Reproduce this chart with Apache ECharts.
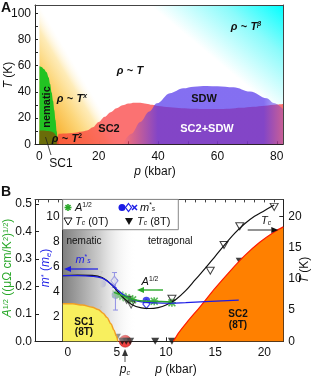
<!DOCTYPE html>
<html><head><meta charset="utf-8">
<script src="https://cdn.jsdelivr.net/npm/echarts@6/dist/echarts.min.js"></script>
<style>html,body{margin:0;padding:0;background:#fff}#c{width:314px;height:381px}</style>
</head><body><div id="c"></div>
<script>
// ================= Panel A data (p in kbar, T in K) =================
const aXTicks = [0, 20, 40, 60, 80];
const aXMinor = [0, 10, 20, 30, 40, 50, 60, 70, 80];
const aYTicks = [0, 20, 40, 60, 80, 100];
const aYMinor = [0, 10, 20, 30, 40, 50, 60, 70, 80, 90, 100];

const aFanP = [0, 28];
const aFanT = [106, 0];

const aNemP = [0, 0.7, 1.5, 2.4, 3.1, 3.6, 4.1, 4.6, 5.0, 5.4, 5.8, 6.2];
const aNemT = [59.5, 59, 57.5, 55, 51, 46, 39.5, 33, 26, 18.5, 10, 0];

const aSC1P = [0, 1, 2, 3, 4, 4.8, 5.4, 6.0, 6.4, 6.6];
const aSC1T = [10.5, 10.5, 10.4, 10.2, 9.8, 9.0, 7.5, 5.0, 2.5, 0];

const aSC2P = [5.8, 6.5, 8, 10, 12, 14, 16, 18, 20, 22, 24, 26, 28, 30, 32, 34, 36, 38, 40, 44, 48, 52, 56, 60, 64, 68, 72, 76, 80, 82.1];
const aSC2T = [0, 8, 8.3, 8.5, 8.9, 9.5, 10.5, 13, 17, 21, 24.5, 27.5, 29.8, 31.2, 31.8, 31.7, 31, 30.2, 29.3, 28.3, 27.6, 27.2, 27, 27, 27.2, 27.8, 28.6, 29.5, 30.3, 30.7];

const aSDWP = [28, 31, 34, 37, 39.6, 44, 48.5, 52, 56.4, 60, 65.4, 71, 76.6, 79, 82.1];
const aSDWT = [0, 8, 17, 25, 31.3, 39, 42.7, 44, 44.5, 44.3, 43.5, 40.2, 35.1, 31.5, 27];

// ================= Panel B data =================
const bXTicks = [0, 5, 10, 15, 20];
const bXTop = [-3, -2, -1, 0, 1, 2, 3, 4, 5, 6, 7, 8, 9, 10, 11, 12, 13, 14, 15, 16, 17, 18, 19, 20, 21];
const bATicks = [0, 0.1, 0.2, 0.3, 0.4, 0.5];
const bMTicks = [2, 4, 6, 8, 10];
const bMMinor = [1, 2, 3, 4, 5, 6, 7, 8, 9, 10, 11];
const bTTicks = [0, 5, 10, 15, 20];

// Tc at 0 T (open triangles) and fit
const bTc0P = [0.84, 3.1, 6.0, 6.45, 10.6, 14.5, 15.9, 17.5, 21.0];
const bTc0T = [10.4, 10.6, 6.6, 5.9, 6.8, 11.3, 15.4, 18.4, 21.5];
const bTc0FitP = [-0.5, 1, 2.5, 3.5, 4.5, 5.5, 6.5, 7.5, 8.3, 9.2, 10, 11, 12, 13, 14, 15, 16, 17, 18, 19, 20, 21];
const bTc0FitT = [10.5, 10.6, 10.55, 10.2, 9.0, 7.2, 5.9, 5.35, 5.25, 5.4, 5.8, 6.7, 8.1, 9.9, 11.7, 13.6, 15.5, 17.3, 18.8, 20.0, 20.9, 21.8];

// Tc at 8 T (filled triangles)
const bTc8P = [0.9, 3.1, 5.0, 5.55, 5.95, 6.35, 8.9, 10.6, 17.5];
const bTc8T = [6.0, 5.1, 0.65, 0, 0, 0, 0, 0, 12.8];

// SC1 (8T) and SC2 (8T) boundaries
const bSC1P = [-0.5, 0.5, 1.5, 2.5, 3.1, 3.6, 4.0, 4.4, 4.7, 4.95, 5.1];
const bSC1T = [6.0, 6.0, 5.8, 5.45, 5.1, 4.5, 3.8, 2.8, 1.8, 0.8, 0];
const bSC2P = [10.75, 11.3, 12.1, 13.5, 15, 16.5, 18, 19.5, 21, 21.93];
const bSC2T = [0, 1.4, 3.0, 5.6, 8.5, 11.2, 13.7, 15.8, 17.5, 18.3];

// nematic shading
const bNemP = [-0.5, 7];
const bNemT = [18.1, 18.1];

// effective mass m*_s
const bMFitP = [-0.5, 1, 2.5, 3.5, 4.2, 5.0, 5.7, 6.5, 7.5, 9, 10.5, 12, 14, 17.4];
const bMFitM = [5.25, 5.25, 5.2, 5.05, 4.7, 4.15, 3.7, 3.35, 3.15, 3.07, 3.05, 3.1, 3.18, 3.3];
const bMCircP = [2.7, 3.5, 4.85, 8.0, 17.35];
const bMCircM = [4.95, 4.6, 3.7, 3.27, 3.75];
const bMDiaP = [4.75, 8.0, 17.35];
const bMDiaM = [4.85, 2.98, 3.3];
const bMXP = [-0.15];
const bMXM = [5.3];
const bErrP = [4.75, 4.85];
const bErrLo = [4.3, 2.5];
const bErrHi = [5.5, 4.9];

// A^1/2
const bAP = [4.9, 5.3, 5.6, 5.95, 6.3, 6.6, 8.8, 10.6];
const bAV = [0.172, 0.168, 0.163, 0.158, 0.155, 0.151, 0.146, 0.140];
const bAFitP = [4.7, 5.5, 6.3, 7.0, 8.0, 9.0, 10.6];
const bAFitV = [0.178, 0.167, 0.156, 0.149, 0.146, 0.145, 0.143];

// critical pressure marker
const bPcP = [5.85];
const bPcT = [0];

// ================= chart =================
const FF = 'Liberation Sans, Arial, Helvetica, sans-serif';
const BLUE = '#1c1ce6', GREEN = '#2aa82a';
const M_MAX = 11.35, T_MAX = 22.7, A_MAX = 11.35 / 22;
function zip(a, b) { return a.map((v, i) => [v, b[i]]); }
const LG = echarts.graphic.LinearGradient;
const ASTER = 'path://M0,4L10,4L10,6L0,6Z M4,0L6,0L6,10L4,10Z M1.4,0L10,8.6L8.6,10L0,1.4Z M8.6,0L10,1.4L1.4,10L0,8.6Z';
const XSYM = 'path://M0,1L1,0L5,4L9,0L10,1L6,5L10,9L9,10L5,6L1,10L0,9L4,5Z';

function axisLbl(vals, extra) {
  return Object.assign({ customValues: vals, fontSize: 12, color: '#111', fontFamily: FF }, extra || {});
}
function line(c) { return { show: true, onZero: false, lineStyle: { color: c || '#222', width: 1 } }; }

const areaSeries = (name, data, xi, yi, fill, opts) => Object.assign({
  type: 'line', name, xAxisIndex: xi, yAxisIndex: yi, data, symbol: 'none', silent: true,
  lineStyle: { width: 0, opacity: 0 }, areaStyle: { color: fill, opacity: 1 }, smooth: 0.35, smoothMonotone: 'x'
}, opts || {});

const series = [
  // ---- Panel A ----
  areaSeries('fan', zip(aFanP, aFanT), 0, 0, new LG(0, 1, 0.737, 0.737, [
    { offset: 0, color: 'rgba(245,150,25,1)' }, { offset: 0.35, color: 'rgba(249,186,66,1)' },
    { offset: 0.6, color: 'rgba(252,214,122,1)' }, { offset: 0.82, color: 'rgba(254,234,178,0.92)' },
    { offset: 1, color: 'rgba(255,250,235,0)' }]), { smooth: false }),
  areaSeries('nematic', zip(aNemP, aNemT), 0, 0, '#22c322'),
  areaSeries('SC1', zip(aSC1P, aSC1T), 0, 0, 'rgba(135,75,0,0.72)'),
  areaSeries('SC2', zip(aSC2P, aSC2T), 0, 0, 'rgba(250,60,60,0.72)'),
  areaSeries('SDW', zip(aSDWP, aSDWT), 0, 0, new LG(0, 0, 1, 0, [
    { offset: 0, color: 'rgba(80,50,235,0)' }, { offset: 0.22, color: 'rgba(80,50,235,0.7)' },
    { offset: 0.88, color: 'rgba(80,50,235,0.7)' }, { offset: 1, color: 'rgba(80,50,235,0.3)' }])),
  // ---- Panel B ----
  areaSeries('nemB', zip(bNemP, bNemT), 2, 4, new LG(0, 0, 1, 0, [
    { offset: 0, color: 'rgba(128,128,128,1)' }, { offset: 0.5, color: 'rgba(205,205,205,1)' },
    { offset: 1, color: 'rgba(255,255,255,0)' }]), { smooth: false }),
  areaSeries('SC1b', zip(bSC1P, bSC1T), 2, 4, '#f8ef5e', { lineStyle: { color: '#f2a024', width: 1.5 } }),
  areaSeries('SC2b', zip(bSC2P, bSC2T), 2, 4, '#ff8000', { lineStyle: { color: '#ff1a00', width: 1.2 }, smooth: 0.25, smoothMonotone: null }),
  { type: 'line', name: 'tc0fit', xAxisIndex: 2, yAxisIndex: 4, data: zip(bTc0FitP, bTc0FitT), symbol: 'none', smooth: 0.4, silent: true, lineStyle: { color: '#111', width: 1.2 } },
  { type: 'line', name: 'mfit', xAxisIndex: 2, yAxisIndex: 3, data: zip(bMFitP, bMFitM), symbol: 'none', smooth: 0.4, silent: true, lineStyle: { color: BLUE, width: 1.2 } },
  { type: 'line', name: 'afit', xAxisIndex: 2, yAxisIndex: 2, data: zip(bAFitP, bAFitV), symbol: 'none', smooth: 0.4, silent: true, lineStyle: { color: GREEN, width: 1.5 } },
  { type: 'custom', name: 'err', xAxisIndex: 2, yAxisIndex: 3, silent: true,
    data: bErrP.map((p, i) => [p, bErrLo[i], bErrHi[i]]), encode: { x: 0, y: [1, 2] },
    renderItem: function (params, api) {
      const a = api.coord([api.value(0), api.value(1)]);
      const b = api.coord([api.value(0), api.value(2)]);
      const st = { stroke: BLUE, lineWidth: 1 };
      return { type: 'group', children: [
        { type: 'line', shape: { x1: a[0], y1: a[1], x2: b[0], y2: b[1] }, style: st },
        { type: 'line', shape: { x1: a[0] - 2.5, y1: a[1], x2: a[0] + 2.5, y2: a[1] }, style: st },
        { type: 'line', shape: { x1: b[0] - 2.5, y1: b[1], x2: b[0] + 2.5, y2: b[1] }, style: st }] };
    } },
  { type: 'scatter', name: 'pc', xAxisIndex: 2, yAxisIndex: 4, data: zip(bPcP, bPcT), symbol: 'circle', symbolSize: 12, silent: true, itemStyle: { color: '#ee1111', borderColor: '#900', borderWidth: 0.5 } },
  { type: 'scatter', name: 'mcirc', xAxisIndex: 2, yAxisIndex: 3, data: zip(bMCircP, bMCircM), symbol: 'circle', symbolSize: 7.5, silent: true, itemStyle: { color: BLUE } },
  { type: 'scatter', name: 'mdia', xAxisIndex: 2, yAxisIndex: 3, data: zip(bMDiaP, bMDiaM), symbol: 'diamond', symbolSize: [7, 9], silent: true, itemStyle: { color: '#fff', borderColor: BLUE, borderWidth: 1.2 } },
  { type: 'scatter', name: 'mx', xAxisIndex: 2, yAxisIndex: 3, data: zip(bMXP, bMXM), symbol: XSYM, symbolSize: 7, silent: true, itemStyle: { color: BLUE } },
  { type: 'scatter', name: 'A', xAxisIndex: 2, yAxisIndex: 2, data: zip(bAP, bAV), symbol: ASTER, symbolSize: 8, silent: true, itemStyle: { color: GREEN } },
  { type: 'scatter', name: 'tc0', xAxisIndex: 2, yAxisIndex: 4, data: zip(bTc0P, bTc0T), symbol: 'triangle', symbolRotate: 180, symbolSize: [8, 7], silent: true, itemStyle: { color: 'rgba(255,255,255,0)', borderColor: '#111', borderWidth: 1 } },
  { type: 'scatter', name: 'tc8', xAxisIndex: 2, yAxisIndex: 4, data: zip(bTc8P, bTc8T), symbol: 'triangle', symbolRotate: 180, symbolSize: [8, 7], silent: true, itemStyle: { color: '#111' } }
];

function txt(x, y, text, o) {
  o = o || {};
  return { type: 'text', x, y, rotation: o.rot || 0, z: 100, silent: true,
    style: { text, fill: o.fill || '#111', fontSize: o.size || 12, fontFamily: FF, fontWeight: o.bold ? 'bold' : 'normal',
      fontStyle: o.italic ? 'italic' : 'normal', align: o.align || 'center', verticalAlign: o.va || 'middle', rich: o.rich } };
}
function mkRich(size, color, bold) {
  const fw = bold ? 'bold' : 'normal';
  return {
    n: { fontSize: size, fill: color, fontFamily: FF, fontWeight: fw },
    i: { fontSize: size, fill: color, fontFamily: FF, fontStyle: 'italic', fontWeight: fw },
    sup: { fontSize: size * 0.62, fill: color, fontFamily: FF, verticalAlign: 'top', fontWeight: fw, fontStyle: 'italic' },
    supn: { fontSize: size * 0.62, fill: color, fontFamily: FF, verticalAlign: 'top', fontWeight: fw },
    sub: { fontSize: size * 0.62, fill: color, fontFamily: FF, verticalAlign: 'bottom', fontWeight: fw, fontStyle: 'italic' }
  };
}
function arrow(x1, y1, x2, y2, lc, hc, w) {
  const dx = x2 - x1, dy = y2 - y1, L = Math.hypot(dx, dy), ux = dx / L, uy = dy / L;
  const hl = 7, hw = 3, bx = x2 - ux * hl, by = y2 - uy * hl;
  return [
    { type: 'line', z: 100, silent: true, shape: { x1, y1, x2: bx, y2: by }, style: { stroke: lc, lineWidth: w || 1.2 } },
    { type: 'polygon', z: 100, silent: true, shape: { points: [[x2, y2], [bx - uy * hw, by + ux * hw], [bx + uy * hw, by - ux * hw]] }, style: { fill: hc } }
  ];
}
function lineG(x1, y1, x2, y2, c, w) {
  return { type: 'line', z: 100, silent: true, shape: { x1, y1, x2, y2 }, style: { stroke: c, lineWidth: w || 1 } };
}

const rk = mkRich(11, '#111', true);
const graphics = [
  txt(1, 1, 'A', { bold: true, size: 14, align: 'left', va: 'top' }),
  txt(1, 185, 'B', { bold: true, size: 14, align: 'left', va: 'top' }),
  // panel A annotations
  txt(246, 27, '{i|ρ} {n|~} {i|T}{sup|β}', { rich: rk }),
  txt(130, 71, '{i|ρ} {n|~} {i|T}', { rich: rk }),
  txt(72, 99, '{i|ρ} {n|~} {i|T}{sup|x}', { rich: rk }),
  txt(67, 139, '{i|ρ} {n|~} {i|T}{supn|2}', { rich: rk }),
  txt(46.5, 107, 'nematic', { bold: true, size: 11, rot: Math.PI / 2 }),
  txt(204, 99, 'SDW', { bold: true, size: 11 }),
  txt(109, 129, 'SC2', { bold: true, size: 11 }),
  txt(207, 129, 'SC2+SDW', { bold: true, size: 11, fill: '#fff' }),
  txt(61, 164, 'SC1', { size: 12 }),
  lineG(51, 155, 45.5, 137, '#222', 0.8),
  txt(155, 172, '{i|p} {n|(kbar)}', { rich: mkRich(12, '#111') }),
  txt(9, 75, '{i|T} {n|(K)}', { rich: mkRich(12, '#111'), rot: Math.PI / 2 }),
  // panel B axis names
  txt(8, 268, '{i|A}{supn|1/2} {n|((μΩ cm/K}{supn|2}{n|)}{supn|1/2}{n|)}', { rich: mkRich(12, GREEN), rot: Math.PI / 2 }),
  txt(46, 268, '{i|m}{supn|*} {n|(}{i|m}{sub|e}{n|)}', { rich: mkRich(12, BLUE), rot: Math.PI / 2 }),
  txt(305, 270, '{i|T} {n|(K)}', { rich: mkRich(12, '#111'), rot: Math.PI / 2 }),
  txt(176, 370, '{i|p} {n|(kbar)}', { rich: mkRich(12, '#111') }),
  txt(125, 370, '{i|p}{sub|c}', { rich: mkRich(12, '#111') }),
  ...arrow(125, 362, 125, 349, '#555', '#333', 1),
  // legend box
  { type: 'rect', z: 99, silent: true, shape: { x: 62.7, y: 199.4, width: 115.6, height: 30.3 }, style: { fill: '#fff', stroke: '#888', lineWidth: 1 } },
  lineG(64.5, 207.5, 71.5, 207.5, GREEN, 1.6), lineG(68, 204, 68, 211, GREEN, 1.6),
  lineG(65.5, 205, 70.5, 210, GREEN, 1.6), lineG(70.5, 205, 65.5, 210, GREEN, 1.6),
  txt(75, 207.5, '{i|A}{supn|1/2}', { rich: mkRich(11, '#111'), align: 'left' }),
  { type: 'circle', z: 100, silent: true, shape: { cx: 122, cy: 207.5, r: 3.5 }, style: { fill: BLUE } },
  { type: 'polygon', z: 100, silent: true, shape: { points: [[128.5, 203.5], [131.5, 207.5], [128.5, 211.5], [125.5, 207.5]] }, style: { fill: '#fff', stroke: BLUE, lineWidth: 1.2 } },
  lineG(132, 205, 137, 210, BLUE, 1.5), lineG(137, 205, 132, 210, BLUE, 1.5),
  txt(140, 207.5, '{i|m}{supn|*}{sub|s}', { rich: mkRich(11, '#111'), align: 'left' }),
  { type: 'polygon', z: 100, silent: true, shape: { points: [[64, 218], [72, 218], [68, 225]] }, style: { fill: '#fff', stroke: '#111', lineWidth: 1 } },
  txt(75, 221.5, '{i|T}{sub|c}{n| (0T)}', { rich: mkRich(11, '#111'), align: 'left' }),
  { type: 'polygon', z: 100, silent: true, shape: { points: [[125, 218], [133, 218], [129, 225]] }, style: { fill: '#111' } },
  txt(137, 221.5, '{i|T}{sub|c}{n| (8T)}', { rich: mkRich(11, '#111'), align: 'left' }),
  // panel B annotations
  txt(66.5, 241.7, 'nematic', { size: 10, align: 'left' }),
  txt(148, 241.7, 'tetragonal', { size: 10, align: 'left' }),
  txt(83, 259.5, '{i|m}{supn|*}{sub|s}', { rich: mkRich(11, BLUE) }),
  ...arrow(98, 269, 64, 269, BLUE, BLUE, 1.2),
  txt(150, 281.5, '{i|A}{supn|1/2}', { rich: mkRich(11, '#111') }),
  ...arrow(163, 290, 137, 290, GREEN, GREEN, 1.4),
  txt(266, 221, '{i|T}{sub|c}', { rich: mkRich(11, '#111') }),
  ...arrow(247.7, 230, 278.3, 230, '#666', '#111', 1.4),
  txt(84, 322, 'SC1', { bold: true, size: 10 }),
  txt(84, 332, '(8T)', { bold: true, size: 10 }),
  txt(238, 314, 'SC2', { bold: true, size: 10 }),
  txt(238, 325, '(8T)', { bold: true, size: 10 })
];

const option = {
  animation: false,
  backgroundColor: '#fff',
  grid: [
    { left: 35, top: 5, width: 248, height: 139.3, show: true, borderWidth: 0, outerBoundsMode: 'none', containLabel: false,
      backgroundColor: new LG(1, 0, 0.78, 0.47, [{ offset: 0, color: '#00ffff' }, { offset: 0.45, color: '#8cfbfb' }, { offset: 1, color: '#ffffff' }]) },
    { left: 35, top: 199.4, width: 248.3, height: 141.9, show: false, outerBoundsMode: 'none', containLabel: false }
  ],
  xAxis: [
    { gridIndex: 0, type: 'value', min: -1.5, max: 82.1, position: 'bottom', axisLine: line(), splitLine: { show: false },
      axisTick: { show: true, inside: true, length: 3, customValues: aXMinor, lineStyle: { color: '#222' } }, axisLabel: axisLbl(aXTicks, { margin: 6 }) },
    { gridIndex: 0, type: 'value', min: -1.5, max: 82.1, position: 'top', axisLine: line('#444'), splitLine: { show: false }, axisTick: { show: false }, axisLabel: { show: false } },
    { gridIndex: 1, type: 'value', min: -3.33, max: 21.93, position: 'bottom', axisLine: line(), splitLine: { show: false },
      axisTick: { show: true, inside: true, length: 4, customValues: bXTicks, lineStyle: { color: '#222' } }, axisLabel: axisLbl(bXTicks, { margin: 5 }) },
    { gridIndex: 1, type: 'value', min: -3.33, max: 21.93, position: 'top', axisLine: line('#444'), splitLine: { show: false },
      axisTick: { show: true, inside: true, length: 3, customValues: bXTop, lineStyle: { color: '#444' } }, axisLabel: { show: false } }
  ],
  yAxis: [
    { gridIndex: 0, type: 'value', min: 0, max: 106.3, position: 'left', axisLine: line(), splitLine: { show: false },
      axisTick: { show: true, inside: true, length: 3, customValues: aYMinor, lineStyle: { color: '#222' } }, axisLabel: axisLbl(aYTicks, { margin: 4 }) },
    { gridIndex: 0, type: 'value', min: 0, max: 106.3, position: 'right', axisLine: line('#444'), splitLine: { show: false }, axisTick: { show: false }, axisLabel: { show: false } },
    { gridIndex: 1, type: 'value', min: 0, max: A_MAX, position: 'left', axisLine: line(), splitLine: { show: false },
      axisTick: { show: true, inside: true, length: 4, customValues: bATicks, lineStyle: { color: '#222' } },
      axisLabel: axisLbl(bATicks, { margin: 3, formatter: v => Number(v).toFixed(1) }) },
    { gridIndex: 1, type: 'value', min: 0, max: M_MAX, position: 'left', offset: -27.7, axisLine: line(), splitLine: { show: false },
      axisTick: { show: true, inside: true, length: 3, customValues: bMMinor, lineStyle: { color: '#222' } }, axisLabel: axisLbl(bMTicks, { margin: 3 }) },
    { gridIndex: 1, type: 'value', min: 0, max: T_MAX, position: 'right', axisLine: line(), splitLine: { show: false },
      axisTick: { show: true, inside: true, length: 4, customValues: bTTicks, lineStyle: { color: '#222' } }, axisLabel: axisLbl(bTTicks, { margin: 5 }) }
  ],
  series,
  graphic: graphics
};
const chart = echarts.init(document.getElementById('c'));
chart.setOption(option);
</script></body></html>
